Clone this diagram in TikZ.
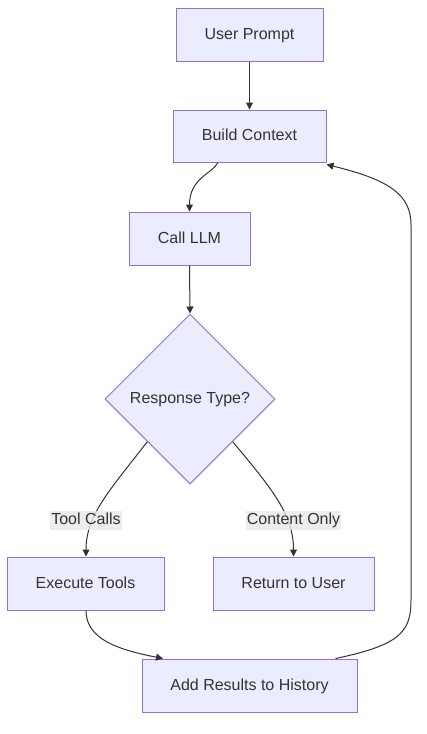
\documentclass[tikz,border=0pt]{standalone}
\usepackage{fontspec}
\setmainfont{Liberation Sans}
\usetikzlibrary{shapes.geometric,arrows.meta}
\definecolor{nodefill}{HTML}{ECECFF}
\definecolor{nodeline}{HTML}{9370DB}
\definecolor{txt}{HTML}{333333}
\definecolor{edge}{HTML}{333333}
\definecolor{lblbg}{HTML}{E8E8E8}
\begin{document}
\begin{tikzpicture}[x=1pt,y=-1pt,
  font=\fontsize{16}{19}\selectfont,
  box/.style={draw=nodeline,fill=nodefill,line width=1pt,text=txt,inner sep=0pt,text height=11.5pt,text depth=2pt},
  dia/.style={draw=nodeline,fill=nodefill,line width=1pt,text=txt,diamond,aspect=1,minimum size=170pt,inner sep=0pt,text height=11.5pt,text depth=2pt},
  conn/.style={draw=edge,line width=1pt,-{Triangle[length=7pt,width=7pt]}},
  lbl/.style={fill=lblbg,fill opacity=0.8,text opacity=1,text=txt,inner xsep=1pt,inner ysep=2pt,text height=11.5pt,text depth=3.5pt}]
\useasboundingbox (0,0) rectangle (427,734);
\node[box,minimum width=147pt,minimum height=53pt] (up) at (249.5,34.5) {User Prompt};
\node[box,minimum width=153pt,minimum height=52pt] (bc) at (249.5,136) {Build Context};
\node[box,minimum width=121pt,minimum height=53pt] (cl) at (189.5,238.5) {Call LLM};
\node[dia] (rt) at (190,399) {Response Type?};
\node[box,minimum width=157pt,minimum height=53pt] (et) at (85.5,583.5) {Execute Tools};
\node[box,minimum width=161pt,minimum height=53pt] (ru) at (293.5,583.5) {Return to User};
\node[box,minimum width=215pt,minimum height=53pt] (ar) at (249.5,685.5) {Add Results to History};

\draw[conn] (up.south) -- (bc.north);
\draw[conn] ([xshift=-31.5pt]bc.south) .. controls (212,174) and (189.5,178) .. (cl.north);
\draw[conn] (cl.south) -- (rt.north);
\draw[conn] (rt.south west) .. controls (110,490) and (86,515) .. ([xshift=0.5pt]et.north);
\draw[conn] (rt.south east) .. controls (273,490) and (293.5,515) .. (ru.north);
\draw[conn] ([xshift=0.5pt]et.south) .. controls (86,640) and (120,650) .. ([xshift=-86.5pt]ar.north);
\draw[conn] ([xshift=-22pt]ar.north east) .. controls (400,645) and (411,632) .. (411,600) -- (411,225) .. controls (411,195) and (390,180) .. ([yshift=-2pt]bc.south east);

\node[lbl] (l1) at (86,520) {Tool Calls};
\node[lbl] (l2) at (293.5,520) {Content Only};
\end{tikzpicture}
\end{document}
